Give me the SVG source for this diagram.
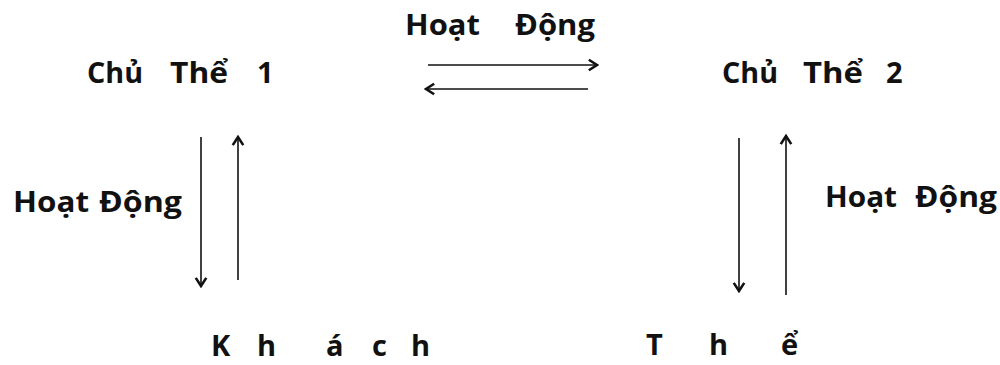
<svg xmlns="http://www.w3.org/2000/svg" width="1000" height="365" viewBox="0 0 1000 365">
<style>
.t{font-family:"Open Sans","Liberation Sans",Arial,sans-serif;font-weight:bold;font-size:29px;fill:#111}
.c{stroke:#111;stroke-width:1.6;fill:none}
</style>
<defs>
<marker id="ah" markerUnits="userSpaceOnUse" markerWidth="14" markerHeight="14" viewBox="-10 -6 12 12" refX="0" refY="0" orient="auto">
<path d="M-7,-4.5 L0,0 L-7,4.5" fill="none" stroke="#111" stroke-width="2.2"/>
</marker>
</defs>
<rect width="1000" height="365" fill="#fff"/>
<g id="hoatdong-top"><text class="t" y="35"><tspan x="405" textLength="75" lengthAdjust="spacingAndGlyphs">Hoạt</tspan><tspan x="515" textLength="80" lengthAdjust="spacingAndGlyphs">Động</tspan></text></g>
<g id="chuthe1"><text class="t" y="83"><tspan x="87" textLength="56" lengthAdjust="spacingAndGlyphs">Chủ</tspan><tspan x="170" textLength="58" lengthAdjust="spacingAndGlyphs">Thể</tspan><tspan x="257">1</tspan></text></g>
<g id="chuthe2"><text class="t" y="83"><tspan x="722" textLength="56" lengthAdjust="spacingAndGlyphs">Chủ</tspan><tspan x="803" textLength="60" lengthAdjust="spacingAndGlyphs">Thể</tspan><tspan x="886">2</tspan></text></g>
<g id="hoatdong-left"><text class="t" y="212"><tspan x="13" textLength="76" lengthAdjust="spacingAndGlyphs">Hoạt</tspan><tspan x="99" textLength="83" lengthAdjust="spacingAndGlyphs">Động</tspan></text></g>
<g id="hoatdong-right"><text class="t" y="207"><tspan x="825" textLength="72" lengthAdjust="spacingAndGlyphs">Hoạt</tspan><tspan x="915" textLength="82" lengthAdjust="spacingAndGlyphs">Động</tspan></text></g>
<g id="khach"><text class="t" y="356"><tspan x="211">K</tspan><tspan x="257">h</tspan><tspan x="326">á</tspan><tspan x="372">c</tspan><tspan x="411">h</tspan></text></g>
<g id="the"><text class="t" y="355"><tspan x="646">T</tspan><tspan x="709">h</tspan><tspan x="781">ể</tspan></text></g>
<g id="connectors">
<line class="c" x1="428" y1="65" x2="597" y2="65" marker-end="url(#ah)"/>
<line class="c" x1="588" y1="89" x2="426" y2="89" marker-end="url(#ah)"/>
<line class="c" x1="201" y1="137" x2="201" y2="286" marker-end="url(#ah)"/>
<line class="c" x1="238" y1="280" x2="238" y2="137" marker-end="url(#ah)"/>
<line class="c" x1="739" y1="138" x2="739" y2="291" marker-end="url(#ah)"/>
<line class="c" x1="786" y1="295" x2="786" y2="136" marker-end="url(#ah)"/>
</g>
</svg>
